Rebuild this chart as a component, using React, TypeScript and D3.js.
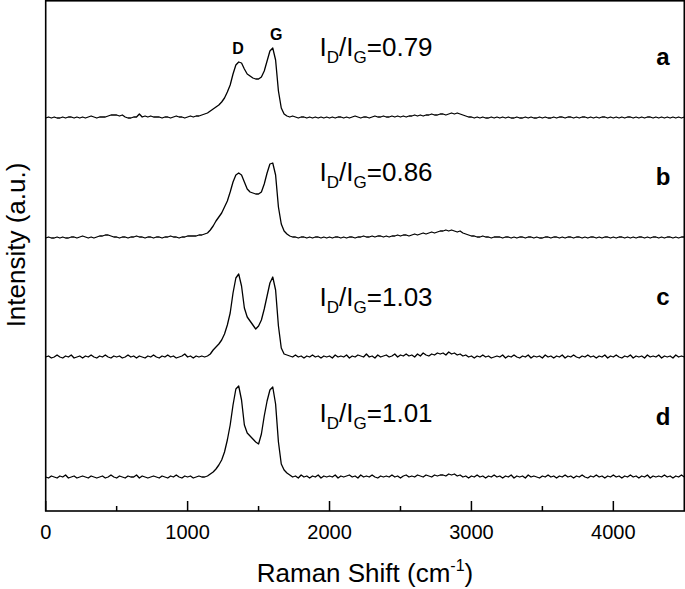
import React from "react";
import * as d3 from "d3";

const width = 685;
const height = 589;

// Raman shift grid (cm-1)
const shiftStart = 0;
const shiftEnd = 4500;
const shiftStep = 20;
const ramanShift = d3.range(shiftStart, shiftEnd + 1, shiftStep);

const sampleLabels = ["a", "b", "c", "d"];
const ratioValues = ["0.79", "0.86", "1.03", "1.01"];
const offsets = [361, 241, 121, 1];
const ratioHeights = [62, 57, 52, 56];

const majorTicks = [0, 1000, 2000, 3000, 4000];
const minorTicks = [500, 1500, 2500, 3500];

const peakNames = ["D", "G"];
const peakShifts = [1355, 1625];

// intensities, one row per 400 cm-1
const traceA = [
  0, 1, 0, 1, 0, 0, 1, 0, 1, 1, 0, 1, 0, 1, 0, 1, 2, 1, 0, 1,
  1, 1, 2, 3, 3, 3, 2, 3, 1, 0, 0, 1, 1, 4, 1, 2, 1, 2, 1, 1,
  1, 0, 1, 1, 0, 1, 2, 1, 1, 0, 1, 2, 1, 2, 2, 3, 4, 5, 7, 9,
  11, 13, 16, 20, 26, 33, 44, 53, 56, 55, 49, 44, 42, 40, 39, 39, 41, 47, 57, 67,
  70, 58, 27, 10, 4, 2, 1, 2, 1, 0, 1, 1, 0, 1, 0, 1, 0, 1, 0, 1,
  0, 1, 0, 1, 1, 0, 1, 0, 1, 2, 1, 0, 1, 1, 0, 1, 2, 1, 1, 2,
  1, 1, 2, 1, 2, 1, 2, 1, 2, 2, 3, 2, 3, 2, 3, 3, 4, 3, 3, 4,
  4, 3, 4, 5, 4, 5, 4, 3, 2, 1, 1, 0, 1, 0, 1, 0, 0, 1, 0, 1,
  0, 1, 0, 1, 0, 0, 1, 0, 0, 1, 0, 1, 0, 0, 1, 0, 1, 0, 0, 1,
  0, 1, 1, 0, 1, 1, 0, 1, 0, 1, 1, 0, 1, 0, 1, 0, 1, 1, 0, 1,
  0, 1, 0, 1, 0, 1, 1, 0, 1, 0, 1, 0, 1, 1, 0, 1, 0, 1, 0, 1,
  0, 1, 0, 1, 0, 1,
];

const traceB = [
  0, 1, 0, 0, 1, 0, 1, 0, 0, 1, 1, 0, 1, 2, 1, 0, 1, 0, 1, 2,
  2, 3, 3, 2, 1, 1, 0, 1, 1, 0, 1, 1, 2, 1, 1, 0, 1, 1, 0, 1,
  1, 0, 1, 1, 2, 1, 1, 0, 1, 1, 2, 2, 2, 2, 3, 3, 4, 5, 8, 12,
  17, 21, 25, 31, 37, 46, 56, 63, 65, 63, 56, 49, 46, 45, 44, 44, 46, 54, 65, 74,
  75, 63, 31, 14, 7, 4, 2, 1, 1, 0, 1, 1, 0, 1, 0, 1, 1, 0, 1, 0,
  1, 0, 1, 1, 0, 1, 0, 1, 1, 0, 1, 1, 2, 1, 1, 2, 1, 2, 2, 1,
  2, 1, 2, 2, 3, 2, 3, 3, 2, 3, 4, 3, 4, 5, 4, 5, 6, 5, 6, 7,
  7, 8, 7, 8, 7, 6, 7, 5, 4, 3, 2, 2, 1, 1, 2, 1, 1, 0, 1, 1,
  1, 0, 1, 1, 0, 1, 0, 1, 1, 0, 1, 1, 0, 1, 0, 0, 1, 1, 0, 1,
  1, 0, 1, 0, 1, 1, 0, 1, 1, 0, 1, 0, 1, 1, 0, 1, 0, 1, 1, 0,
  1, 0, 1, 1, 0, 1, 0, 1, 0, 1, 1, 0, 1, 0, 1, 1, 0, 1, 0, 1,
  1, 0, 1, 0, 1, 1,
];

const traceC = [
  1, 2, 0, 1, 3, 1, 0, 2, 1, 3, 0, 1, 2, 0, 2, 1, 3, 1, 0, 2,
  1, 3, 1, 0, 2, 1, 2, 0, 1, 3, 1, 2, 0, 2, 1, 0, 2, 1, 3, 1,
  0, 2, 1, 3, 1, 2, 0, 1, 2, 4, 1, 2, 0, 2, 1, 2, 1, 2, 4, 8,
  11, 14, 18, 24, 33, 45, 65, 80, 84, 72, 50, 41, 37, 33, 29, 32, 38, 49, 62, 75,
  81, 68, 32, 10, 4, 3, 2, 1, 3, 1, 2, 0, 2, 1, 3, 1, 2, 0, 2, 1,
  2, 0, 3, 1, 2, 1, 3, 0, 2, 1, 3, 2, 1, 4, 1, 2, 0, 3, 1, 2,
  3, 1, 2, 4, 1, 3, 2, 4, 2, 3, 1, 4, 2, 5, 3, 2, 4, 3, 5, 4,
  5, 3, 6, 4, 5, 3, 4, 2, 3, 1, 2, 0, 2, 1, 3, 1, 2, 0, 1, 2,
  1, 3, 0, 2, 1, 3, 1, 0, 2, 1, 3, 0, 2, 1, 2, 0, 3, 1, 2, 0,
  2, 1, 3, 0, 2, 1, 3, 1, 0, 2, 1, 3, 1, 2, 0, 2, 1, 3, 0, 2,
  1, 3, 1, 0, 2, 1, 3, 0, 2, 1, 2, 0, 3, 1, 2, 1, 3, 0, 2, 1,
  2, 0, 3, 1, 2, 1,
];

const traceD = [
  1, 0, 2, 1, 0, 2, 1, 3, 0, 1, 2, 0, 1, 2, 1, 0, 2, 1, 0, 1,
  2, 0, 1, 3, 1, 0, 2, 1, 0, 2, 1, 1, 3, 0, 2, 1, 0, 1, 2, 1,
  0, 2, 1, 0, 2, 1, 3, 1, 0, 2, 1, 2, 0, 1, 2, 1, 1, 2, 4, 6,
  9, 13, 18, 26, 38, 53, 73, 89, 92, 78, 53, 45, 42, 39, 36, 34, 44, 62, 77, 88,
  91, 74, 36, 14, 8, 5, 3, 1, 2, 0, 3, 1, 2, 0, 2, 1, 3, 0, 2, 1,
  2, 1, 3, 0, 2, 1, 2, 3, 1, 2, 0, 3, 1, 2, 1, 3, 1, 0, 2, 1,
  2, 1, 3, 1, 2, 0, 2, 3, 1, 2, 1, 3, 2, 1, 3, 2, 1, 3, 2, 3,
  3, 2, 4, 3, 4, 2, 3, 1, 2, 0, 2, 1, 3, 1, 2, 0, 2, 1, 3, 1,
  2, 0, 2, 1, 3, 0, 2, 1, 2, 0, 3, 1, 2, 1, 0, 2, 1, 3, 1, 2,
  0, 2, 1, 3, 1, 2, 0, 2, 1, 3, 1, 0, 2, 1, 3, 1, 2, 0, 2, 1,
  3, 1, 2, 0, 2, 1, 3, 1, 2, 0, 2, 1, 3, 0, 2, 1, 2, 1, 3, 1,
  2, 0, 2, 1, 3, 1,
];

const traces = [traceA, traceB, traceC, traceD];

const font = "'Liberation Sans', Arial, Helvetica, sans-serif";

export default function App() {
  const margin = { left: 45.7, right: 684.3, top: 0.8, bottom: 511 };

  const x = d3.scaleLinear().domain([shiftStart, shiftEnd]).range([margin.left, margin.right]);
  const y = d3.scaleLinear().domain([-32, 479]).range([margin.bottom, 0]);

  const paths = traces.map((trace, k) =>
    d3
      .line<number>()
      .x((_, i) => x(ramanShift[i]))
      .y((v) => y(v + offsets[k]))(trace)
  );

  const peakY = (s: number) => {
    const i = Math.round(s / shiftStep);
    const local = d3.max(traceA.slice(Math.max(0, i - 4), i + 2)) || 0;
    return y(local + offsets[0]) - 8;
  };

  return (
    <svg
      width={width}
      height={height}
      style={{ position: "absolute", left: 0, top: 0, background: "#fff" }}
      fontFamily={font}
    >
      {paths.map((d, k) => (
        <path key={k} d={d || ""} fill="none" stroke="#000" strokeWidth={1.3} strokeLinejoin="round" />
      ))}

      <rect
        x={margin.left}
        y={margin.top}
        width={margin.right - margin.left}
        height={margin.bottom - margin.top}
        fill="none"
        stroke="#000"
        strokeWidth={1.6}
      />

      {majorTicks.map((t) => (
        <g key={t}>
          <line x1={x(t)} x2={x(t)} y1={margin.bottom} y2={margin.bottom - 10} stroke="#000" strokeWidth={1.5} />
          <text x={x(t)} y={539} textAnchor="middle" fontSize={20}>
            {t}
          </text>
        </g>
      ))}
      {minorTicks.map((t) => (
        <line key={t} x1={x(t)} x2={x(t)} y1={margin.bottom} y2={margin.bottom - 5} stroke="#000" strokeWidth={1.5} />
      ))}

      <text x={(margin.left + margin.right) / 2} y={582} textAnchor="middle" fontSize={26}>
        Raman Shift (cm
        <tspan fontSize={16} dy={-11}>-1</tspan>
        <tspan dy={11}>)</tspan>
      </text>

      <text transform="translate(25,245) rotate(-90)" textAnchor="middle" fontSize={26}>
        Intensity (a.u.)
      </text>

      {sampleLabels.map((s, k) => (
        <text key={s} x={663} y={y(offsets[k]) - 53} textAnchor="middle" fontSize={24} fontWeight="bold">
          {s}
        </text>
      ))}

      {ratioValues.map((r, k) => (
        <text key={r} x={x(1930)} y={y(offsets[k] + ratioHeights[k])} fontSize={26}>
          I<tspan fontSize={17} dy={7}>D</tspan>
          <tspan dy={-7}>/I</tspan>
          <tspan fontSize={17} dy={7}>G</tspan>
          <tspan dy={-7}>={r}</tspan>
        </text>
      ))}

      {peakNames.map((p, k) => (
        <text key={p} x={x(peakShifts[k])} y={peakY(peakShifts[k] - 20)} textAnchor="middle" fontSize={16} fontWeight="bold">
          {p}
        </text>
      ))}
    </svg>
  );
}
